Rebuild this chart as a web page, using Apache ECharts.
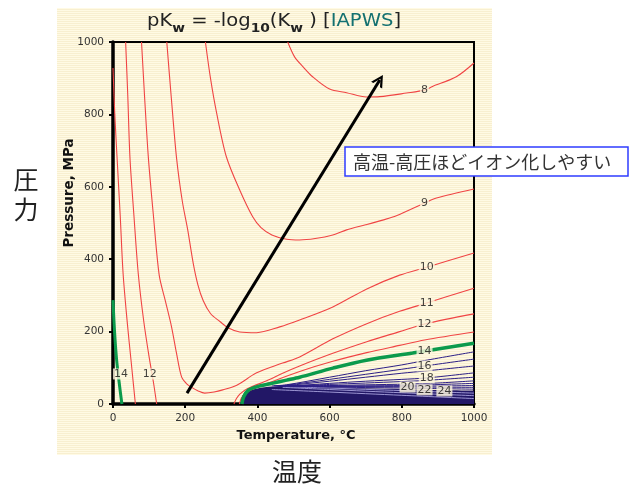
<!DOCTYPE html>
<html><head><meta charset="utf-8">
<script src="https://cdn.jsdelivr.net/npm/echarts@6/dist/echarts.min.js"></script>
<style>html,body{margin:0;padding:0;background:#fff}#c{width:632px;height:488px}</style>
</head><body><div id="c"></div>
<script>
// ---- axis ticks ----
const xTicks = [0, 200, 400, 600, 800, 1000];
const yTicks = [0, 200, 400, 600, 800, 1000];

// ---- pKw contours: [Temperature °C, Pressure MPa] ----
const c8 = [[484,1000],[503,959],[526,932],[553,904],[600,870],[647,860],[702,848],[739,849],[813,859],[863,867],[885,877],[951,904],[1000,942]];
const c9 = [[256,1000],[270,900],[287,804],[314,683],[351,591],[387,517],[410,487],[440,467],[481,455],[517,453],[560,457],[609,467],[647,481],[700,495],[747,508],[785,520],[863,555],[896,569],[1000,594]];
const c10 = [[149,1000],[162,840],[176,680],[192,560],[207,481],[222,390],[235,330],[250,285],[270,250],[296,228],[320,210],[351,199],[398,197],[462,213],[517,232],[609,268],[703,318],[794,356],[869,378],[1000,417]];
const c11 = [[79,1000],[88,840],[98,680],[112,520],[128,356],[145,285],[162,214],[176,140],[190,75],[205,55],[218,46],[236,36],[254,30],[280,33],[304,39],[343,52],[398,86],[470,113],[517,130],[609,180],[703,222],[794,256],[869,279],[1000,320]];
const c12a = [[35,1000],[41,850],[47,680],[58,520],[70,360],[85,230],[100,130],[112,60],[121,0]];
const c12b = [[335,0],[342,15],[352,28],[372,42],[430,66],[470,85],[517,105],[609,140],[703,172],[794,200],[863,221],[1000,249]];
const c13a = [[0,928],[5,800],[11,685],[20,520],[28,360],[40,220],[50,120],[57,50],[62,0]];
const c13b = [[350,0],[355,15],[364,28],[385,40],[430,58],[517,90],[609,118],[703,142],[794,162],[863,177],[1000,199]];
const c14a = [[0,287],[4,205],[10,122],[17,60],[24,5],[25,0]];
const c14b = [[357,0],[362,20],[375,38],[400,48],[440,57],[481,66],[517,74],[609,99],[702,121],[830,141],[1000,168]];
// high pKw contours (15 .. 24)
const b15 = [[440,50],[480,53],[600,74],[700,92],[800,108],[863,120],[1000,144]];
const b16 = [[445,50],[480,52],[600,68],[700,82],[800,96],[863,105],[1000,124]];
const b17 = [[450,50],[480,51],[600,63],[700,74],[800,85],[863,91],[1000,105]];
const b18 = [[455,50],[480,50],[600,57],[700,63],[800,68],[869,72],[1000,86]];
const b19 = [[460,50],[600,54],[700,58],[800,62],[863,65],[1000,74]];
const b20 = [[465,50],[600,51],[700,53],[816,55],[900,58],[1000,64]];
const b21 = [[470,50],[600,50],[800,51],[1000,57]];
const b22 = [[470,50],[600,49],[800,49],[1000,51]];
const b23 = [[470,50],[600,48],[800,47],[1000,46]];
const b24 = [[470,50],[600,47],[800,44],[1000,41]];
// densely packed region of very high pKw
const navyTop = [[352,0],[355,12],[360,25],[372,35],[400,43],[440,48],[470,50],[600,46],[800,41],[1000,37]];
const g1 = [[480,48],[600,44],[800,37],[1000,30]];
const g2 = [[470,46],[600,40],[800,31],[1000,23]];
const g3 = [[440,40],[600,33],[800,24],[1000,15]];

// ---- contour labels ----
const labelT = [863, 863, 869, 869, 863, 863, 863, 869, 816, 863, 918, 22, 102];
const labelP = [867, 555, 378, 279, 221, 146, 105, 72, 47, 39, 36, 83, 83];
const labelText = ['8','9','10','11','12','14','16','18','20','22','24','14','12'];

// ---- arrow ----
const arrowFrom = [205, 30];
const arrowTo = [739, 895];

const RED = '#f04444', GREEN = '#0b9a4c', NAVY = '#221766', BLUE = '#2c1f86';
const CREAM = '#fdf6dc';

// striped cream background pattern
const pc = document.createElement('canvas');
pc.width = 4; pc.height = 2;
const px = pc.getContext('2d');
px.fillStyle = '#fffae4'; px.fillRect(0,0,4,2);
px.fillStyle = '#f8efd0'; px.fillRect(0,1,4,1);

function line(data, color, width, z, smooth) {
  return {type:'line', data, symbol:'none', showSymbol:false, smooth: smooth === undefined ? 0.3 : smooth,
    lineStyle:{color, width}, z, silent:true};
}

const series = [];
series.push({type:'line', data:navyTop, symbol:'none', smooth:0.3, lineStyle:{width:0},
  areaStyle:{color:NAVY, opacity:1, origin:'start'}, z:2, silent:true});
[g1,g2,g3].forEach(d => series.push(line(d, '#9d96d4', 1, 2, 0.3)));
[b15,b16,b17,b18,b19,b20,b21,b22,b23,b24].forEach(d => series.push(line(d, BLUE, 1, 3)));
[c8,c9,c10,c11,c12a,c12b,c13a,c13b].forEach(d => series.push(line(d, RED, 1.1, 4)));
series.push(line(c14a, GREEN, 3, 5));
series.push(line(c14b, GREEN, 3.5, 5));
series.push({type:'scatter', data:labelT.map((t,i)=>[t,labelP[i],labelText[i]]), symbolSize:0,
  itemStyle:{color:'transparent'}, z:8, silent:true,
  label:{show:true, position:'inside', formatter:p=>p.value[2], color:'#111', fontSize:11,
    fontFamily:'DejaVu Sans', backgroundColor:CREAM, padding:[0,1]}});
series.push({type:'line', data:[], symbol:'none', z:7,
  markLine:{silent:true, symbol:['none','path://M0,12 L6,0 L12,12 L9.6,12 L6,4.6 L2.4,12 Z'], symbolSize:[13,12],
    label:{show:false}, lineStyle:{color:'#000', width:3, type:'solid'},
    data:[[{coord:arrowFrom},{coord:arrowTo}]]}});

const plainNum = v => String(v);
const chart = echarts.init(document.getElementById('c'), null, {renderer:'canvas'});
chart.setOption({
  animation:false,
  backgroundColor:'#ffffff',
  grid:{left:113, top:42, width:361, height:362, show:true, borderColor:'#000', borderWidth:2, backgroundColor:'transparent'},
  xAxis:{type:'value', min:xTicks[0], max:xTicks[xTicks.length-1], interval:xTicks[1]-xTicks[0],
    axisLine:{show:true, onZero:false, lineStyle:{color:'#000', width:3.5}},
    axisTick:{show:true, length:4, lineStyle:{color:'#000', width:2}},
    axisLabel:{color:'#333', fontSize:10.5, fontFamily:'DejaVu Sans', margin:9, formatter:plainNum},
    splitLine:{show:false}},
  yAxis:{type:'value', min:yTicks[0], max:yTicks[yTicks.length-1], interval:yTicks[1]-yTicks[0],
    axisLine:{show:true, onZero:false, lineStyle:{color:'#000', width:3.5}},
    axisTick:{show:true, length:4, lineStyle:{color:'#000', width:2}},
    axisLabel:{color:'#333', fontSize:10.5, fontFamily:'DejaVu Sans', margin:9, formatter:plainNum},
    splitLine:{show:false}},
  graphic:[
    {type:'rect', z:-100, shape:{x:57, y:8, width:435, height:447}, style:{fill:{image:pc, repeat:'repeat'}}},
    {type:'text', x:147, y:13, scaleX:1.15, z:10, style:{
      text:'{t|pK}{s|w}{t| = -log}{s|10}{t|(K}{s|w}{t| ) [}{c|IAPWS}{t|]}',
      rich:{
        t:{fontSize:17, fontFamily:'DejaVu Sans', fill:'#222', color:'#222', lineHeight:22, verticalAlign:'top'},
        s:{fontSize:12, fontWeight:'bold', fontFamily:'DejaVu Sans', fill:'#222', color:'#222', lineHeight:12, verticalAlign:'bottom'},
        c:{fontSize:17, fontFamily:'DejaVu Sans', fill:'#137070', color:'#137070', lineHeight:22, verticalAlign:'top'}
      }}},
    {type:'text', x:69, y:193, rotation:Math.PI/2, z:10, style:{text:'Pressure, MPa',
      font:'bold 13.5px "DejaVu Sans"', fill:'#111', textAlign:'center', textVerticalAlign:'middle', align:'center', verticalAlign:'middle'}},
    {type:'text', x:296, y:436, z:10, style:{text:'Temperature, °C',
      font:'bold 13px "DejaVu Sans"', fill:'#111', textAlign:'center', textVerticalAlign:'middle', align:'center', verticalAlign:'middle'}},
    {type:'text', x:26, y:194, z:10, style:{text:'圧\n力', font:'25px "Noto Sans CJK JP"', lineHeight:30,
      fill:'#222', textAlign:'center', textVerticalAlign:'middle', align:'center', verticalAlign:'middle'}},
    {type:'text', x:297, y:471, z:10, style:{text:'温度', font:'25px "Noto Sans CJK JP"',
      fill:'#222', textAlign:'center', textVerticalAlign:'middle', align:'center', verticalAlign:'middle'}},
    {type:'rect', z:20, shape:{x:345, y:147, width:283, height:29}, style:{fill:'#fff', stroke:'#2f3cff', lineWidth:1.5}},
    {type:'text', x:353, y:162, z:21, style:{text:'高温-高圧ほどイオン化しやすい', font:'18px "Noto Sans CJK JP"',
      fill:'#333', textAlign:'left', textVerticalAlign:'middle', align:'left', verticalAlign:'middle'}}
  ],
  series
});
</script></body></html>
